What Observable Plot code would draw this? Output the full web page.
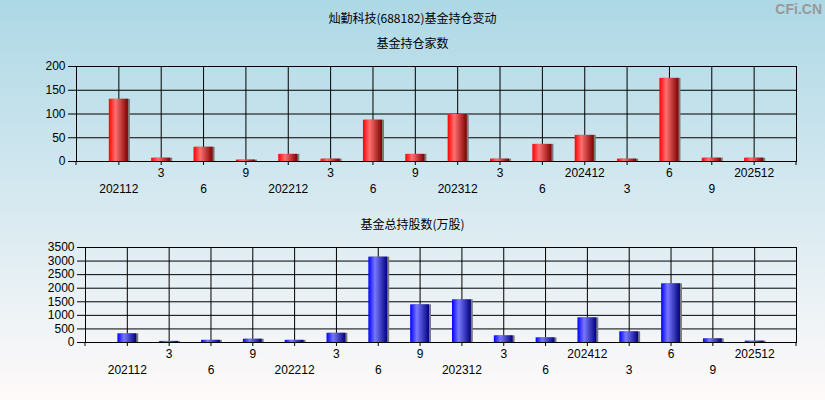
<!DOCTYPE html>
<html><head><meta charset="utf-8">
<script src="https://cdn.jsdelivr.net/npm/d3@7"></script>
<script src="https://cdn.jsdelivr.net/npm/@observablehq/plot@0.6"></script>
<style>
body{margin:0}
#root{position:relative;width:825px;height:400px;background:linear-gradient(to bottom,#add8e6,#fffafa);overflow:hidden;font-family:"Noto Sans CJK SC",sans-serif}
.t{position:absolute;left:0;width:825px;text-align:center;font-size:12px;color:#000;line-height:16px}
#wm{position:absolute;right:3px;top:1px;font:bold 14px "Liberation Sans",Arial,sans-serif;color:#999}
#root svg{position:absolute;left:0}
</style></head><body>
<div id="root">
<div class="t" style="top:10px">灿勤科技(688182)基金持仓变动</div>
<div class="t" style="top:35px">基金持仓家数</div>
<div class="t" style="top:216px">基金总持股数(万股)</div>
<div id="wm">CFi.CN</div>
</div>
<script>
const quarters = ["202112","202203","202206","202209","202212","202303","202306","202309","202312","202403","202406","202412","202503","202506","202509","202512"];
const tickLabels = ["202112","3","6","9","202212","3","6","9","202312","3","6","202412","3","6","9","202512"];
const fundCounts = [131,7,30,3,15,5,87,15,99,5,36,55,5,175,7,7];
const totalShares = [319,40,80,120,80,340,3145,1388,1572,246,172,909,393,2162,135,49];
const countTicks = [0,50,100,150,200];
const shareTicks = [0,500,1000,1500,2000,2500,3000,3500];

function makeChart(o) {
  const data = quarters.map((q, i) => ({q, v: o.values[i], lab: tickLabels[i], row: i % 2}));
  const svg = Plot.plot({
    width: 825, height: 200,
    marginTop: o.mt, marginBottom: o.mb, marginLeft: o.ml, marginRight: o.mr,
    style: {background: "transparent", fontFamily: "'Liberation Sans', Arial, sans-serif", fontSize: "12px", color: "#000", overflow: "visible"},
    x: {type: "band", domain: quarters, paddingInner: 0.55, paddingOuter: 0.775, round: false, axis: null},
    y: {domain: [0, o.ticks[o.ticks.length - 1]], axis: null},
    marks: [
      Plot.gridY(o.ticks, {stroke: "#000", strokeOpacity: 1}),
      Plot.gridX(quarters, {stroke: "#000", strokeOpacity: 1}),
      Plot.barY(data, {x: "q", y: "v", fill: "#7a7a7a", dx: 2}),
      Plot.barY(data, {x: "q", y: "v", fill: `url(#${o.grad})`}),
      Plot.frame({stroke: "#000"}),
      Plot.axisY({ticks: o.ticks, tickSize: 8, tickPadding: 3, fontSize: o.yFont, tickFormat: d => String(d), label: null}),
      Plot.axisX({ticks: quarters, tickSize: 4, tickFormat: () => "", label: null}),
      Plot.text(data, {filter: d => d.row === 1, x: "q", text: "lab", frameAnchor: "bottom", dy: 15, fontSize: 12}),
      Plot.text(data, {filter: d => d.row === 0, x: "q", text: "lab", frameAnchor: "bottom", dy: 31, fontSize: 12})
    ]
  });
  const s = d3.select(svg);
  const defs = s.insert("defs", ":first-child");
  const g = defs.append("linearGradient").attr("id", o.grad).attr("x1", 0).attr("x2", 1).attr("y1", 0).attr("y2", 0);
  o.stops.forEach(([off, c]) => g.append("stop").attr("offset", off).attr("stop-color", c));
  const xr = svg.scale("x").range, yr = svg.scale("y").range;
  xr.forEach(x => s.append("line").attr("x1", x).attr("x2", x).attr("y1", yr[0]).attr("y2", yr[0] + 4).attr("stroke", "#000"));
  svg.style.top = o.top + "px";
  document.getElementById("root").appendChild(svg);
}

makeChart({values: fundCounts, ticks: countTicks, grad: "redG", top: 0, mt: 66, mb: 39, ml: 76, mr: 29, yFont: 12,
  stops: [[0, "#ff0000"], [0.35, "#ff7070"], [1, "#800000"]]});
makeChart({values: totalShares, ticks: shareTicks, grad: "blueG", top: 200, mt: 47, mb: 58, ml: 85, mr: 29, yFont: 12,
  stops: [[0, "#0000ff"], [0.35, "#7878ff"], [1, "#000080"]]});
</script>
</body></html>
